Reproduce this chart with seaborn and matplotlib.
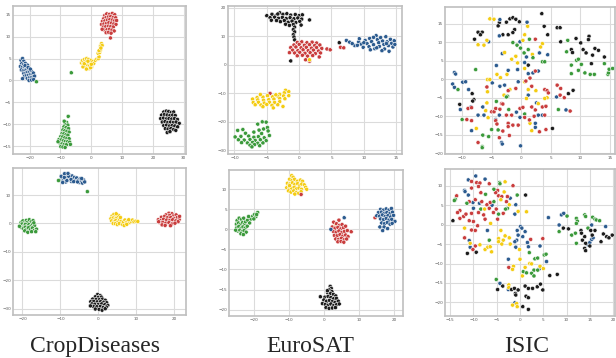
import numpy as np
import pandas as pd
import matplotlib
matplotlib.use("Agg")
import matplotlib.pyplot as plt
import seaborn as sns

# colori delle classi
colori = {"blue": "#2c5b8f", "red": "#c93d3d", "yellow": "#f4cc12",
          "green": "#3b9a3b", "black": "#1c1c1c"}

######## DATI (letti a occhio dalla figura) ########
# --- CropDiseases, riga 1 ---
crop_a_blue = [(-22.8,4.6),(-22.3,5.0),(-21.9,4.4),(-22.6,3.8),(-22.0,3.6),(-21.4,3.9),(-23.0,3.2),(-22.4,3.0),(-21.7,2.9),(-21.1,3.2),(-20.7,3.5),(-22.7,2.4),(-22.1,2.2),(-21.5,2.3),(-20.9,2.5),(-20.3,2.7),(-21.9,1.6),(-21.2,1.7),(-20.6,1.9),(-20.0,2.0),(-19.5,2.2),(-21.6,1.0),(-21.0,1.1),(-20.4,1.2),(-19.8,1.3),(-19.2,1.4),(-18.8,1.7),(-20.8,0.5),(-20.1,0.6),(-19.5,0.7),(-18.9,0.8),(-18.4,1.0),(-22.3,0.4),(-20.2,0.0),(-19.4,0.1),(-18.7,0.2),(-21.5,3.4),(-20.5,3.0),(-19.8,2.6)]
crop_a_yellow = [(-3.2,4.0),(-2.9,4.5),(-2.6,3.6),(-2.4,4.2),(-2.2,4.8),(-2.0,3.3),(-1.9,3.9),(-1.7,4.5),(-1.5,5.0),(-1.4,3.0),(-1.2,3.6),(-1.0,4.2),(-0.9,4.8),(-0.7,2.7),(-0.5,3.4),(-0.3,4.0),(-0.1,4.6),(0.1,3.1),(0.3,3.7),(0.5,4.3),(-2.7,3.1),(-1.6,2.6),(-0.2,2.9),(0.8,3.9),(1.3,4.6),(1.8,4.9),(2.3,5.0),(2.5,5.4),(2.2,6.2),(2.7,6.4),(2.9,6.9),(2.5,6.8),(3.0,7.9),(3.3,8.4),(3.5,8.0),(3.1,7.4),(-2.3,3.8),(-1.1,4.4),(0.0,3.7)]
crop_a_red = [(4.3,14.8),(5.0,15.2),(5.9,15.1),(6.8,15.3),(7.6,15.0),(4.0,14.1),(4.8,14.4),(5.5,14.5),(6.3,14.6),(7.1,14.4),(7.9,14.3),(3.6,13.5),(4.4,13.6),(5.2,13.8),(6.0,13.9),(6.8,13.8),(7.5,13.6),(8.2,13.7),(3.3,12.8),(4.1,12.9),(4.9,13.0),(5.7,13.2),(6.5,13.1),(7.3,12.9),(8.0,12.8),(3.9,12.2),(4.7,12.3),(5.5,12.4),(6.3,12.3),(7.1,12.2),(4.3,11.5),(5.1,11.6),(5.9,11.7),(6.7,11.5),(7.4,11.3),(4.8,10.9),(5.6,11.0),(6.4,10.8),(6.2,9.7),(3.5,11.7)]
crop_a_green = [(-7.5,-8.2),(-8.0,-9.6),(-8.5,-10.0),(-7.6,-10.2),(-8.9,-10.6),(-8.2,-10.8),(-7.4,-11.0),(-9.2,-11.3),(-8.6,-11.5),(-7.9,-11.6),(-7.2,-11.8),(-9.5,-12.1),(-8.9,-12.2),(-8.2,-12.4),(-7.6,-12.5),(-9.9,-12.8),(-9.3,-12.9),(-8.6,-13.1),(-7.9,-13.2),(-7.2,-13.3),(-10.5,-13.5),(-9.8,-13.6),(-9.1,-13.8),(-8.4,-13.9),(-7.7,-14.0),(-7.0,-14.1),(-10.2,-14.3),(-9.5,-14.5),(-8.8,-14.6),(-8.1,-14.7),(-9.9,-15.1),(-9.2,-15.2),(-8.5,-15.3),(-6.8,-14.6),(-10.8,-14.0),(-8.8,-9.3),(-17.8,-0.3),(-6.5,1.75)]
crop_a_black = [(23.5,-7.2),(24.3,-7.0),(25.1,-7.1),(25.9,-7.3),(26.7,-7.2),(22.8,-7.9),(23.7,-7.8),(24.6,-7.9),(25.5,-8.0),(26.4,-7.9),(27.2,-8.0),(22.5,-8.7),(23.4,-8.6),(24.3,-8.8),(25.2,-8.7),(26.1,-8.8),(27.0,-8.7),(27.9,-8.9),(23.0,-9.5),(23.9,-9.4),(24.8,-9.6),(25.7,-9.5),(26.6,-9.6),(27.5,-9.5),(28.5,-9.8),(23.5,-10.3),(24.4,-10.2),(25.3,-10.4),(26.2,-10.3),(27.1,-10.4),(28.0,-10.6),(24.0,-11.0),(24.9,-11.1),(25.8,-11.0),(26.7,-11.2),(24.6,-11.9),(25.5,-11.7),(27.4,-11.4)]

# --- EuroSAT, riga 1 ---
euro_a_black = [(-5.0,17.3),(-4.2,17.8),(-3.6,17.3),(-3.0,18.3),(-2.5,17.8),(-1.9,18.0),(-1.3,17.5),(-0.6,17.7),(0.0,17.3),(0.5,17.6),(-4.5,16.6),(-3.8,16.8),(-3.2,16.4),(-2.6,16.7),(-2.0,16.3),(-1.4,16.6),(-0.8,16.2),(-0.2,16.5),(0.4,16.1),(-3.5,15.6),(-2.9,15.2),(-2.3,15.6),(-1.7,15.0),(-1.1,15.4),(-0.5,14.9),(0.1,15.3),(-2.1,14.3),(-1.5,13.9),(-0.9,14.2),(-0.7,13.3),(-0.9,12.4),(-0.7,11.6),(-0.9,10.6),(-0.8,9.8),(-0.7,8.8),(1.6,15.8),(-1.3,1.4),(0.3,14.0),(-4.3,15.7),(-3.3,17.9),(6.2,7.8)]
euro_a_red = [(-0.3,7.9),(0.4,8.1),(1.2,7.8),(2.0,8.0),(2.7,7.7),(-0.8,7.0),(0.0,7.2),(0.8,6.9),(1.6,7.1),(2.4,6.8),(3.2,7.0),(-1.3,6.1),(-0.5,6.3),(0.3,6.0),(1.1,6.2),(1.9,5.9),(2.7,6.1),(3.5,5.8),(4.3,5.6),(4.8,5.3),(-1.0,5.2),(-0.2,5.0),(0.6,5.3),(1.4,5.0),(2.2,5.2),(3.0,4.9),(-1.5,4.3),(-0.7,4.2),(0.1,4.4),(0.9,4.1),(1.7,4.3),(2.5,4.0),(3.3,4.2),(-0.3,3.2),(0.5,3.4),(1.3,3.1),(2.1,3.3),(3.1,2.8),(1.0,1.8),(1.6,1.3),(6.4,6.2),(6.9,6.0),(-4.5,-10.0)]
euro_a_blue = [(7.3,8.6),(7.8,8.0),(8.6,6.8),(9.2,8.1),(9.6,7.3),(9.3,9.2),(9.9,6.2),(10.2,8.6),(10.5,7.5),(10.8,6.4),(10.9,9.3),(11.2,8.2),(11.5,7.1),(11.7,5.7),(11.9,10.3),(12.1,8.9),(12.3,7.8),(12.4,6.5),(12.6,9.6),(12.9,8.4),(13.1,7.2),(13.2,5.6),(13.4,9.9),(13.6,8.1),(13.8,6.8),(13.9,4.8),(14.1,9.0),(14.3,7.6),(14.5,6.3),(14.7,8.5),(12.0,6.0),(11.0,5.3),(10.0,7.8),(12.8,5.0),(13.5,7.5),(8.2,7.5),(14.8,7.2),(11.5,9.7),(9.0,6.9)]
euro_a_yellow = [(-2.1,-8.9),(-1.6,-9.4),(-2.3,-9.8),(-3.0,-10.3),(-1.6,-10.8),(-2.4,-10.9),(-3.3,-11.0),(-4.1,-11.2),(-4.9,-10.8),(-5.6,-11.3),(-6.5,-11.5),(-7.2,-12.0),(-6.4,-12.3),(-5.5,-12.4),(-4.7,-12.2),(-3.9,-12.0),(-3.0,-11.8),(-2.2,-11.9),(-7.1,-13.2),(-6.3,-13.1),(-5.4,-13.4),(-4.6,-13.1),(-3.8,-13.2),(-3.0,-12.9),(-6.8,-14.0),(-5.9,-14.1),(-5.0,-13.9),(-4.2,-14.2),(-3.3,-14.0),(-2.5,-14.6),(-4.0,-15.1),(-5.6,-14.7),(-3.6,-10.5),(-6.0,-10.4),(1.6,1.8)]
euro_a_green = [(-5.7,-20.0),(-5.1,-20.1),(-6.4,-20.8),(-4.9,-22.0),(-5.5,-22.5),(-6.2,-22.9),(-8.7,-22.7),(-9.5,-23.0),(-7.0,-23.6),(-8.3,-24.0),(-5.8,-24.1),(-4.6,-24.8),(-9.9,-25.3),(-9.0,-25.1),(-7.8,-25.0),(-7.0,-25.4),(-6.3,-25.2),(-5.4,-25.6),(-9.4,-26.3),(-8.5,-26.4),(-7.6,-26.2),(-6.8,-26.5),(-6.0,-26.3),(-5.1,-26.6),(-8.9,-27.3),(-8.0,-27.4),(-7.2,-27.2),(-6.4,-27.5),(-5.6,-27.4),(-7.6,-28.2),(-6.9,-28.0),(-6.1,-28.4),(-7.3,-28.8),(-4.8,-23.2)]

# --- ISIC, riga 1 ---
isic_a_black = [(3.5,17.7),(-3.7,15.3),(-3.9,14.4),(-2.5,15.4),(-1.9,16.3),(-1.4,16.6),(-0.9,16.2),(-0.3,15.5),(3.9,14.3),(-1.1,13.4),(-1.4,12.6),(-2.2,12.0),(-3.1,12.0),(-7.3,12.7),(-6.6,12.7),(-6.9,12.0),(-7.9,10.8),(4.5,12.0),(1.2,3.8),(-8.3,-3.9),(6.1,13.9),(6.6,13.9),(6.7,10.1),(9.3,11.0),(10.1,9.8),(11.5,11.6),(11.4,10.7),(10.5,8.0),(12.5,8.3),(11.0,7.1),(13.1,7.8),(12.1,6.5),(14.1,6.0),(11.9,4.2),(8.5,8.0),(8.7,7.2),(8.8,-3.0),(8.0,-3.9),(-10.4,-6.8),(-8.0,-5.5),(-8.2,-5.9),(5.3,-13.3)]
isic_a_blue = [(-3.6,16.1),(1.0,15.4),(-3.7,11.7),(-5.5,10.1),(-0.2,10.1),(3.1,7.1),(-3.2,6.9),(4.5,6.6),(0.9,6.0),(0.6,4.5),(-4.2,3.7),(-2.2,2.4),(-0.6,2.6),(2.0,1.7),(2.9,2.2),(1.2,1.5),(-4.9,-1.0),(-0.5,-0.7),(-11.3,1.8),(-11.1,1.4),(-11.6,-1.3),(-11.3,-2.2),(-9.9,-0.8),(-9.4,-0.7),(-8.9,-2.8),(-3.6,-1.9),(-2.8,-1.6),(6.0,-4.8),(1.2,-4.3),(-10.3,-8.2),(-8.5,-7.5),(-6.5,-7.5),(-0.8,-8.9),(2.6,-6.4),(7.6,-8.3),(-7.3,-9.7),(-6.3,-9.7),(-3.7,-9.7),(-4.3,-10.9),(-0.2,-10.3),(2.9,-9.7),(3.6,-9.7),(-8.4,-13.9),(2.4,-11.9),(2.4,-13.0),(-3.3,-17.1),(-3.2,-17.5),(-0.1,-18.0)]
isic_a_yellow = [(-5.3,16.3),(-4.6,16.2),(1.1,14.3),(-7.3,9.3),(-6.3,9.2),(-5.8,10.5),(0.6,12.0),(0.3,10.5),(3.6,9.6),(3.3,8.7),(-2.8,7.2),(1.9,6.7),(-0.9,6.2),(-1.6,5.4),(-0.6,4.4),(0.6,2.9),(-4.1,1.3),(-2.4,1.3),(-3.5,0.4),(-5.7,-0.1),(-5.3,-0.1),(0.6,-0.7),(-1.9,-2.8),(1.2,-2.8),(2.5,-3.1),(-5.7,-3.4),(-2.9,-4.3),(4.4,-5.0),(4.0,-5.2),(0.9,-5.2),(-5.8,-6.4),(2.9,-6.6),(-5.6,-10.4),(-7.6,-13.3),(1.5,-11.9),(1.8,-13.9),(-6.0,-8.5)]
isic_a_green = [(1.4,10.8),(-1.4,9.9),(-0.7,9.2),(-0.1,8.4),(1.2,8.0),(0.5,7.1),(2.0,5.8),(3.6,4.7),(4.0,4.7),(-7.7,2.6),(-10.7,-2.8),(-2.3,-4.6),(-2.5,-4.8),(-4.2,-6.0),(-2.1,-8.2),(6.3,-8.2),(-10.0,-10.9),(0.6,-9.4),(-5.0,-13.6),(-3.9,-13.7),(-6.5,-15.1),(-5.5,-15.5),(-6.6,-18.2),(-6.6,-18.5),(7.7,7.4),(7.9,10.5),(9.4,5.1),(9.7,5.4),(10.2,4.0),(8.5,3.8),(9.7,2.4),(8.5,1.5),(10.8,1.7),(11.7,1.3),(12.4,1.3),(14.7,1.3),(14.8,1.7),(14.9,2.7),(15.5,2.9),(14.1,4.2)]
isic_a_red = [(2.4,10.8),(2.4,2.2),(0.8,-0.5),(-5.8,-2.1),(-2.2,-3.1),(-0.9,-2.5),(1.8,-1.9),(4.0,-2.8),(4.4,-3.1),(4.6,-3.7),(6.1,-1.6),(6.7,-2.5),(6.6,-4.3),(7.3,-5.0),(-9.0,-7.9),(-8.4,-7.7),(-5.0,-8.8),(-4.6,-8.8),(-4.3,-7.9),(-3.6,-8.1),(-3.3,-6.6),(-3.1,-6.7),(-0.2,-7.9),(0.3,-7.6),(1.8,-7.5),(2.4,-8.3),(3.6,-7.5),(4.2,-7.3),(8.3,-8.6),(-9.2,-10.9),(-8.4,-11.2),(-2.5,-9.7),(-1.6,-9.7),(0.6,-10.3),(2.2,-10.0),(4.0,-9.7),(1.4,-11.0),(-4.3,-11.2),(-4.1,-12.1),(-3.1,-14.0),(-2.2,-11.9),(-2.2,-12.8),(-1.4,-12.4),(-0.5,-12.4),(4.2,-13.6),(3.1,-14.2),(-2.0,-15.2),(-3.7,-15.8),(-7.3,-17.1),(1.5,0.3)]

# --- CropDiseases, riga 2 ---
crop_b_blue = [(-10.0,15.3),(-9.6,16.2),(-9.3,15.0),(-9.1,16.9),(-8.8,15.8),(-8.6,14.6),(-8.4,17.3),(-8.1,16.4),(-7.9,15.3),(-7.6,17.0),(-7.4,16.0),(-7.1,14.8),(-6.9,16.7),(-6.7,15.6),(-6.3,16.2),(-6.0,15.2),(-5.7,16.0),(-5.3,15.1),(-5.0,14.4),(-4.8,15.7),(-4.5,14.9),(-4.2,14.2),(-3.9,15.3),(-3.6,14.6),(-9.8,16.6),(-8.9,17.5),(-7.8,16.6),(-8.3,15.1),(-9.4,14.4),(-7.2,15.5),(-5.5,14.6),(-6.5,14.7),(-4.4,15.8),(-8.0,17.6),(-9.0,16.2)]
crop_b_green = [(-20.4,0.3),(-19.9,0.9),(-19.5,0.2),(-19.0,1.1),(-18.6,0.5),(-18.2,1.3),(-17.7,0.6),(-17.2,1.0),(-20.6,-0.6),(-20.1,-0.2),(-19.6,-0.8),(-19.2,-0.3),(-18.8,-1.0),(-18.3,-0.4),(-17.8,-0.9),(-17.3,-0.2),(-16.8,-0.7),(-20.3,-1.4),(-19.8,-1.8),(-19.3,-1.3),(-18.9,-2.0),(-18.4,-1.5),(-17.9,-2.2),(-17.4,-1.6),(-16.9,-2.4),(-16.3,-2.0),(-19.4,-2.6),(-18.6,-3.1),(-17.6,-2.9),(-16.5,-2.9),(-20.8,-1.0),(-17.0,0.2),(-10.5,15.1),(-2.9,11.2)]
crop_b_yellow = [(3.6,2.6),(4.1,3.2),(4.5,2.4),(3.3,1.7),(3.9,1.9),(4.4,1.5),(4.9,2.0),(5.3,2.8),(3.5,0.9),(4.1,0.6),(4.6,1.0),(5.1,0.5),(5.6,1.4),(6.0,0.8),(3.9,0.0),(4.5,-0.1),(5.0,-0.4),(5.5,0.0),(6.3,-0.3),(6.6,0.5),(7.0,1.2),(7.4,0.4),(7.8,0.9),(8.2,0.3),(8.6,0.8),(9.0,1.2),(9.4,0.6),(9.9,0.8),(10.4,0.7),(6.8,-0.7),(7.5,-0.3),(5.8,2.1),(4.7,3.4),(8.0,1.3)]
crop_b_red = [(18.6,3.6),(19.4,3.4),(17.8,3.0),(18.8,2.8),(19.7,2.6),(20.5,3.0),(16.6,2.2),(17.4,2.4),(18.2,2.0),(19.1,2.1),(19.9,1.8),(20.8,2.1),(21.3,1.4),(15.8,1.3),(16.5,1.1),(17.2,1.5),(18.0,1.2),(18.8,1.0),(19.6,1.3),(20.4,0.9),(21.0,0.6),(16.2,0.3),(17.0,0.4),(17.8,0.1),(18.6,0.3),(19.4,-0.2),(20.2,0.1),(16.8,-0.5),(17.6,-0.7),(19.0,-0.8),(15.9,0.6),(21.4,2.5)]
crop_b_black = [(-0.2,-25.0),(0.5,-25.4),(-0.8,-25.8),(0.0,-26.0),(0.8,-25.9),(-1.5,-26.6),(-0.6,-26.7),(0.3,-26.8),(1.1,-26.6),(1.8,-27.0),(-2.0,-27.5),(-1.2,-27.4),(-0.3,-27.6),(0.6,-27.5),(1.4,-27.7),(2.2,-27.9),(-1.7,-28.3),(-0.9,-28.4),(0.0,-28.5),(0.9,-28.3),(1.7,-28.6),(2.5,-28.8),(-1.3,-29.2),(-0.4,-29.3),(0.5,-29.2),(1.3,-29.5),(2.1,-29.4),(-0.8,-30.1),(0.2,-30.2),(1.0,-30.5),(-2.1,-29.0),(1.8,-30.0)]

# --- EuroSAT, riga 2 ---
euro_b_green = [(-24.8,2.2),(-24.2,2.8),(-23.5,2.5),(-25.0,1.3),(-24.4,1.6),(-23.8,1.2),(-23.2,1.7),(-22.6,1.4),(-24.9,0.4),(-24.3,0.7),(-23.7,0.2),(-23.1,0.6),(-22.5,0.3),(-21.9,0.8),(-24.6,-0.4),(-24.0,-0.2),(-23.4,-0.6),(-22.8,-0.3),(-22.2,-0.7),(-23.7,-1.1),(-23.0,-1.3),(-22.4,1.9),(-21.8,2.3),(-21.2,1.6),(-20.8,2.6),(-20.3,3.3),(-19.8,3.7),(-19.4,3.2),(-18.9,4.2),(-19.2,3.7),(-21.5,3.2),(-22.9,2.8),(-25.2,-0.2),(-20.0,2.6)]
euro_b_yellow = [(-9.2,13.4),(-8.8,13.0),(-9.8,12.5),(-9.1,12.2),(-8.4,12.5),(-7.6,12.0),(-6.7,12.3),(-6.1,12.0),(-10.4,11.5),(-9.7,11.3),(-9.0,11.6),(-8.3,11.2),(-7.5,11.4),(-6.9,10.9),(-6.3,11.3),(-5.6,11.1),(-10.6,10.4),(-9.9,10.5),(-9.2,10.2),(-8.5,10.5),(-7.8,10.1),(-7.1,10.3),(-6.4,10.0),(-5.2,10.5),(-4.9,10.0),(-10.1,9.6),(-9.4,9.3),(-8.6,9.6),(-7.9,9.2),(-7.2,9.0),(-6.5,9.4),(-8.3,8.8),(-9.8,10.9),(3.4,1.2)]
euro_b_red = [(4.3,2.3),(2.8,1.8),(3.6,1.4),(4.4,1.0),(5.2,1.2),(2.4,0.6),(3.2,0.3),(4.0,0.5),(4.8,0.1),(5.6,0.4),(6.2,0.8),(2.7,-0.5),(3.5,-0.7),(4.3,-0.4),(5.1,-0.8),(5.9,-0.5),(6.7,-0.3),(7.8,-0.6),(3.0,-1.5),(3.8,-1.6),(4.6,-1.3),(5.4,-1.7),(6.2,-1.4),(6.9,-1.8),(3.4,-2.4),(4.2,-2.5),(5.0,-2.2),(5.8,-2.6),(6.5,-2.4),(4.0,-3.1),(4.9,-3.0),(5.7,-3.2),(-6.5,8.7),(14.6,2.9)]
euro_b_blue = [(16.2,5.0),(17.0,4.8),(17.8,5.1),(18.6,4.8),(19.3,5.2),(15.6,4.2),(16.4,4.3),(17.2,4.0),(18.0,4.2),(18.8,3.9),(19.6,4.3),(15.1,3.4),(15.9,3.3),(16.7,3.6),(17.5,3.2),(18.3,3.4),(19.1,3.1),(19.9,3.5),(16.2,2.6),(17.0,2.4),(17.8,2.7),(18.6,2.3),(19.4,2.5),(20.3,2.0),(16.5,1.6),(17.3,1.4),(18.1,1.7),(18.9,1.3),(16.0,0.6),(17.2,0.6),(18.2,0.2),(16.8,-0.3),(19.5,1.5),(2.0,0.0),(5.8,2.9)]
euro_b_black = [(1.8,-14.2),(2.1,-14.7),(1.5,-15.1),(2.3,-15.5),(1.1,-15.8),(1.9,-16.0),(2.7,-16.2),(3.4,-16.6),(-1.0,-16.8),(0.3,-16.9),(1.2,-16.7),(2.0,-17.0),(2.8,-17.3),(3.6,-17.2),(0.0,-17.6),(0.8,-17.9),(1.6,-17.7),(2.4,-18.0),(3.2,-18.2),(4.1,-17.9),(-0.4,-18.5),(0.4,-18.7),(1.2,-18.9),(2.0,-18.6),(2.8,-19.0),(3.6,-18.8),(4.4,-18.6),(0.6,-19.5),(1.5,-19.7),(2.4,-19.6),(3.3,-19.5),(1.0,-15.3)]

# --- ISIC, riga 2 ---
isic_b_blue = [(-9.5,12.5),(-11.1,11.5),(-7.5,11.7),(-11.9,8.8),(-11.8,8.5),(-11.1,7.6),(-10.1,5.7),(-8.7,5.5),(-2.1,6.8),(-0.9,5.1),(-1.1,2.7),(-10.0,4.2),(-7.0,-1.5),(0.1,-0.5),(0.4,-0.9),(-0.6,-1.5),(1.1,-1.8),(-0.4,-2.7),(-0.7,-4.0),(-1.1,-4.4),(0.6,-3.1),(1.6,-4.6),(-0.9,-5.8),(1.8,-5.7),(4.3,-5.5),(-2.5,-8.9),(4.1,-11.4),(5.7,-9.5),(-4.3,-15.1),(-2.5,-16.7),(-1.1,-20.1),(-10.9,-4.1),(-10.7,-5.8),(6.1,1.8),(8.4,-0.1),(8.9,2.5),(9.4,2.9),(14.6,-5.2),(15.0,-4.6),(15.4,-3.8),(15.7,-3.4),(15.4,-0.1),(18.4,-0.5),(-6.0,5.0)]
isic_b_red = [(-10.4,11.1),(-9.3,10.8),(-8.6,10.7),(-6.6,10.5),(-1.5,10.0),(-8.9,9.8),(-10.4,9.4),(-8.4,8.2),(-4.8,8.8),(-5.2,8.2),(-13.6,7.4),(-10.9,5.9),(-9.6,6.4),(-8.2,5.9),(-7.1,5.1),(-6.4,5.7),(-4.6,7.4),(-3.9,7.2),(-2.9,5.9),(-2.7,7.2),(-12.9,3.6),(-13.4,3.1),(-12.1,2.1),(-12.9,1.6),(-11.6,2.7),(-10.4,2.9),(-8.9,3.1),(-6.6,4.2),(-5.1,4.0),(-5.7,3.1),(-3.6,2.9),(-4.8,1.4),(-7.5,1.4),(-10.0,0.8),(-10.9,1.0),(-9.1,-0.3),(-10.4,-1.4),(-9.6,-1.5),(-11.9,-3.4),(-9.6,-5.5),(-10.1,-6.4),(2.3,-3.8),(4.9,-3.6),(-2.4,-11.0),(-7.8,2.5)]
isic_b_green = [(-4.4,10.8),(-4.3,10.5),(-5.6,9.1),(-7.4,7.8),(-0.6,7.6),(-13.9,6.5),(-14.1,6.2),(-11.4,5.5),(-5.6,5.9),(-2.7,4.2),(-3.1,4.0),(-8.4,4.0),(-4.6,2.7),(-6.6,-4.0),(2.0,-7.2),(3.2,-8.8),(3.8,-8.6),(0.7,-12.1),(1.4,-12.4),(3.0,-11.7),(3.8,-11.7),(5.2,-7.8),(5.6,-7.6),(2.5,-12.5),(3.0,-13.2),(-5.1,-14.1),(10.1,2.2),(8.4,-1.8),(12.1,1.6),(12.3,0.9),(12.1,0.3),(11.1,-2.7),(11.9,-2.2),(13.9,2.5),(14.1,2.1),(12.1,-4.8),(14.6,-0.9),(15.6,1.9),(16.1,1.4),(16.4,1.2),(17.1,1.0)]
isic_b_yellow = [(-3.2,11.0),(-3.4,8.4),(-4.1,6.4),(-2.3,5.1),(-0.4,3.4),(-7.6,4.0),(-6.3,0.3),(-11.9,-0.9),(-4.1,-1.5),(-3.2,-2.9),(-2.3,-3.4),(-4.6,-3.6),(-3.6,-4.0),(-4.6,-4.4),(-3.9,-5.0),(-10.7,-4.8),(-8.6,-5.2),(-7.5,-6.4),(-6.9,-5.8),(-6.4,-5.7),(-6.1,-7.0),(-2.1,-5.0),(-0.1,-6.4),(0.0,-8.9),(-1.4,-10.7),(-1.6,-11.5),(2.1,-10.0),(1.1,-11.0),(2.5,-10.1),(4.3,-10.7),(5.0,-11.3),(0.5,-13.2),(-2.4,-15.5),(-2.4,-16.2),(-0.7,-20.3),(-1.6,-20.7),(-0.6,-21.1),(1.4,3.3)]
isic_b_black = [(1.2,7.6),(-14.4,1.0),(-9.4,-7.1),(-11.3,-7.4),(6.4,-13.1),(8.0,-12.8),(-3.7,-15.8),(-4.8,-16.7),(-1.8,-16.7),(-1.2,-16.4),(-1.0,-17.7),(-0.9,-18.1),(-0.4,-16.8),(1.1,-15.8),(1.8,-16.4),(2.7,-16.4),(3.7,-16.0),(4.4,-15.3),(4.9,-16.8),(1.3,-18.4),(1.8,-18.8),(0.6,-21.1),(1.8,-21.8),(9.3,-0.9),(10.4,-1.1),(13.1,-1.5),(13.2,-2.2),(13.9,-3.1),(13.4,-4.0),(14.1,-4.8),(13.9,-6.1),(14.1,-6.7),(15.0,-5.5),(15.5,-2.7),(16.1,-1.5),(15.2,-1.5),(17.4,-4.4),(17.9,-2.4),(18.6,-3.1),(19.1,-3.4),(19.8,-2.7)]

titoli = ["CropDiseases", "EuroSAT", "ISIC"]
####################################################

# pannelli: cluster, posizione in pixel (left, top, right, bottom), limiti, tick
pannelli = [
    (dict(blue=crop_a_blue, yellow=crop_a_yellow, red=crop_a_red, green=crop_a_green, black=crop_a_black),
     (13, 6, 186, 154), (-25.4, 30.7), (-16.8, 17.0), np.arange(-20, 31, 10), np.arange(-15, 16, 5)),
    (dict(black=euro_a_black, red=euro_a_red, blue=euro_a_blue, yellow=euro_a_yellow, green=euro_a_green),
     (228, 6, 402, 154), (-11.0, 15.9), (-31.3, 20.7), np.arange(-10, 16, 5), np.arange(-30, 21, 10)),
    (dict(black=isic_a_black, blue=isic_a_blue, yellow=isic_a_yellow, green=isic_a_green, red=isic_a_red),
     (445, 7, 615, 154), (-12.9, 15.9), (-20.2, 19.5), np.arange(-10, 16, 5), np.arange(-20, 16, 5)),
    (dict(blue=crop_b_blue, green=crop_b_green, yellow=crop_b_yellow, red=crop_b_red, black=crop_b_black),
     (13, 168, 186, 315), (-22.5, 23.1), (-32.2, 19.5), np.arange(-20, 21, 10), np.arange(-30, 11, 10)),
    (dict(green=euro_b_green, yellow=euro_b_yellow, red=euro_b_red, blue=euro_b_blue, black=euro_b_black),
     (229, 170, 403, 316), (-27.1, 22.6), (-21.6, 14.8), np.arange(-20, 21, 10), np.arange(-20, 11, 5)),
    (dict(blue=isic_b_blue, red=isic_b_red, green=isic_b_green, yellow=isic_b_yellow, black=isic_b_black),
     (445, 169, 615, 316), (-16.1, 20.4), (-23.5, 14.3), np.arange(-15, 21, 5), np.arange(-20, 11, 5)),
]

sns.set_style("whitegrid", {"axes.edgecolor": "0.75", "grid.color": "0.86"})

W, H = 616, 358
fig = plt.figure(figsize=(W / 100, H / 100), dpi=100)

for cluster, (l, t, r, b), xlim, ylim, xt, yt in pannelli:
    ax = fig.add_axes([l / W, (H - b) / H, (r - l) / W, (b - t) / H])
    righe = []
    for nome, punti in cluster.items():
        arr = np.array(punti)
        righe.append(pd.DataFrame({"x": arr[:, 0], "y": arr[:, 1], "classe": nome}))
    df = pd.concat(righe, ignore_index=True)
    sns.scatterplot(data=df, x="x", y="y", hue="classe", palette=colori,
                    s=9, edgecolor="white", linewidth=0.4, legend=False, ax=ax)
    ax.set_xlim(*xlim)
    ax.set_ylim(*ylim)
    ax.set_xticks(xt)
    ax.set_yticks(yt)
    ax.tick_params(labelsize=3, colors="0.35", pad=1.5, length=0)
    ax.set_xlabel("")
    ax.set_ylabel("")
    ax.grid(True, linewidth=0.8)
    for sp in ax.spines.values():
        sp.set_linewidth(1.2)

for xc, testo in zip([95, 310, 527], titoli):
    fig.text(xc / W, 0.016, testo, ha="center", va="baseline",
             family="Liberation Serif", fontsize=17)

fig.savefig("out.png", dpi=100)
